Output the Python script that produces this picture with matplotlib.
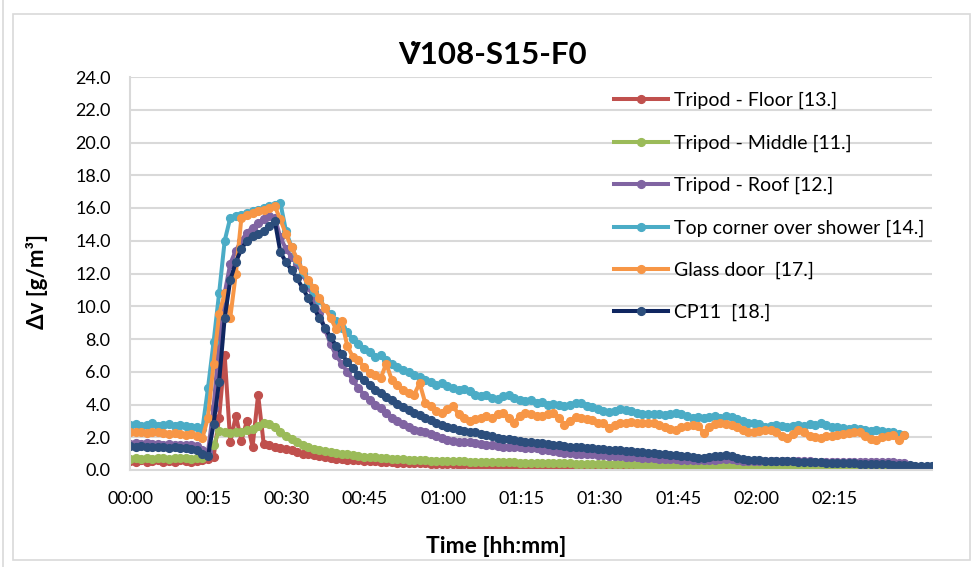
import numpy as np
import matplotlib
matplotlib.use("Agg")
import matplotlib.pyplot as plt
from matplotlib.ticker import FuncFormatter, MultipleLocator, FixedLocator
from matplotlib.patches import Rectangle

plt.rcParams['font.family'] = ['Lato', 'DejaVu Sans']

# logger samples every 64 s -> time of each sample in minutes
t_min = np.arange(0, 145) * 64 / 60
tick_minutes = [0, 15, 30, 45, 60, 75, 90, 105, 120, 135]

floor_13 = [0.55, 0.5, 0.6, 0.5, 0.55, 0.6, 0.5, 0.55, 0.5, 0.6, 0.55, 0.5, 0.55,
            0.6, 0.65, 0.8, 3.2, 7.0, 1.7, 3.3, 1.8, 3.0, 1.4, 4.6, 1.6, 1.5, 1.4,
            1.35, 1.3, 1.2, 1.1, 1.0, 0.95, 0.9, 0.85, 0.8, 0.75, 0.7, 0.65, 0.62,
            0.6, 0.6, 0.55, 0.55, 0.52, 0.5, 0.5, 0.48, 0.45, 0.45, 0.42, 0.4, 0.42,
            0.4, 0.38, 0.38, 0.36, 0.35, 0.35, 0.33, 0.34, 0.32, 0.3, 0.3,
            0.3, 0.28, 0.3, 0.28, 0.27, 0.28, 0.26, 0.27, 0.25, 0.26,
            0.25, 0.24, 0.25, 0.23, 0.24, 0.22, 0.23, 0.22, 0.21, 0.22,
            0.2, 0.21, 0.2, 0.2, 0.19, 0.2, 0.18, 0.19, 0.18, 0.17,
            0.18, 0.17, 0.16, 0.17, 0.16, 0.15, 0.16, 0.15, 0.14, 0.15,
            0.14, 0.13, 0.12, 0.12, 0.12, 0.13, 0.14, 0.13, 0.12, 0.12,
            0.11, 0.12, 0.11, 0.1, 0.11, 0.1, 0.1, 0.09, 0.1, 0.09,
            0.09, 0.08, 0.09, 0.08, 0.08, 0.07, 0.08, 0.07, 0.07, 0.06,
            0.07, 0.06, 0.06, 0.05, 0.06, 0.05]

middle_11 = [0.7, 0.75, 0.7, 0.72, 0.7, 0.75, 0.72, 0.7, 0.73, 0.75, 0.72, 0.7, 0.72, 0.75,
             0.9, 1.5, 2.4, 2.35, 2.25, 2.3, 2.35, 2.45, 2.5, 2.7, 2.9, 2.8, 2.6,
             2.35, 2.1, 1.9, 1.7, 1.5, 1.4, 1.3, 1.2, 1.15, 1.1, 1.05, 1.0, 0.95,
             0.9, 0.85, 0.82, 0.8, 0.78, 0.75, 0.72, 0.7, 0.68, 0.65, 0.63, 0.62,
             0.6, 0.6, 0.58, 0.57, 0.56, 0.55, 0.54, 0.53, 0.52, 0.51, 0.5, 0.5,
             0.49, 0.48, 0.48, 0.47, 0.46, 0.46, 0.45, 0.45, 0.44, 0.43,
             0.43, 0.42, 0.42, 0.41, 0.4, 0.4, 0.39, 0.39, 0.38, 0.37,
             0.37, 0.36, 0.36, 0.35, 0.35, 0.34, 0.34, 0.33, 0.33, 0.32,
             0.32, 0.31, 0.31, 0.3, 0.3, 0.29, 0.29, 0.28, 0.28, 0.27,
             0.27, 0.28, 0.3, 0.29, 0.27, 0.25, 0.24, 0.24, 0.23, 0.23,
             0.22, 0.22, 0.21, 0.21, 0.2, 0.2, 0.2, 0.19, 0.19, 0.18,
             0.18, 0.18, 0.17, 0.17, 0.16, 0.16, 0.16, 0.15, 0.15, 0.15,
             0.14, 0.14, 0.14, 0.13, 0.13, 0.13]

roof_12 = [1.6, 1.65, 1.6, 1.62, 1.58, 1.6, 1.55, 1.58, 1.55, 1.52, 1.55, 1.5, 1.45,
           1.25, 1.1, 3.8, 7.8, 10.8, 12.6, 13.4, 14.0, 14.5, 14.8, 15.1, 15.3, 15.5, 15.4,
           14.2, 13.5, 13.0, 12.6, 12.0, 11.2, 10.5, 9.6, 8.6, 7.7, 7.0, 6.5, 6.0,
           5.5, 5.0, 4.6, 4.3, 4.0, 3.8, 3.5, 3.2, 3.0, 2.8, 2.6, 2.45, 2.4, 2.3,
           2.2, 2.05, 1.95, 1.85, 1.78, 1.72, 1.7, 1.68, 1.62, 1.58, 1.55, 1.5,
           1.45, 1.42, 1.4, 1.38, 1.4, 1.36, 1.35, 1.32, 1.25, 1.2, 1.15, 1.1,
           1.05, 1.03, 1.0, 0.98, 0.97, 0.95, 0.92, 0.9, 0.88, 0.85, 0.83, 0.8,
           0.78, 0.77, 0.75, 0.73, 0.72, 0.7, 0.68, 0.66, 0.65, 0.64, 0.63,
           0.62, 0.62, 0.61, 0.6, 0.62, 0.66, 0.7, 0.66, 0.6, 0.58,
           0.57, 0.57, 0.56, 0.56, 0.55, 0.55, 0.54, 0.54, 0.53, 0.53,
           0.52, 0.52, 0.51, 0.51, 0.5, 0.5, 0.5, 0.49, 0.49, 0.48,
           0.48, 0.48, 0.47, 0.47, 0.47, 0.46, 0.46, 0.45, 0.45]

corner_14 = [2.75, 2.8, 2.7, 2.75, 2.85, 2.7, 2.75, 2.8, 2.7, 2.75, 2.7, 2.65, 2.6,
             2.5, 5.0, 7.8, 10.8, 14.0, 15.4, 15.5, 15.6, 15.7, 15.8, 15.9, 16.0, 16.1,
             16.2, 16.3, 14.6, 13.6, 12.8, 12.1, 11.4, 10.9, 10.4, 9.9, 9.5, 9.1,
             8.7, 8.4, 8.0, 7.7, 7.4, 7.2, 6.9, 7.0, 6.7, 6.5, 6.3, 6.1, 6.0, 5.8,
             5.7, 5.5, 5.4, 5.2, 5.3, 5.1, 5.0, 4.9, 4.95, 4.8, 4.6, 4.5, 4.6, 4.4,
             4.35, 4.5, 4.55, 4.4, 4.3, 4.2, 4.25, 4.1, 4.15, 4.0, 4.05, 3.95, 3.9,
             4.0, 4.1, 4.1, 3.9, 3.85, 3.7, 3.6, 3.55, 3.6, 3.7, 3.65, 3.6, 3.5,
             3.45, 3.4, 3.45, 3.4, 3.35, 3.4, 3.5, 3.45, 3.3, 3.2, 3.25, 3.2, 3.25,
             3.3, 3.2, 3.3, 3.25, 3.1, 3.0, 2.9, 2.85, 2.8, 2.65, 2.7, 2.75, 2.7,
             2.65, 2.7, 2.75, 2.7, 2.8, 2.75, 2.85, 2.75, 2.65, 2.6, 2.55, 2.5,
             2.55, 2.5, 2.45, 2.4, 2.45, 2.4, 2.35, 2.3, 2.2, 2.15]

glass_17 = [2.3, 2.35, 2.3, 2.25, 2.3, 2.3, 2.25, 2.2, 2.25, 2.2, 2.15, 2.2, 2.1,
            1.95, 3.2, 6.5, 9.5, 10.8, 9.3, 12.0, 15.4, 15.6, 15.7, 15.8, 15.9, 16.0,
            16.1, 15.3, 14.4, 13.6, 12.9, 12.2, 11.6, 11.1, 10.5, 9.9, 9.3, 8.6,
            9.1, 7.6, 6.9, 6.7, 6.3, 5.9, 5.8, 5.6, 6.5, 5.5, 5.2, 4.9, 4.7, 4.6,
            5.3, 4.1, 3.9, 3.6, 3.5, 3.7, 3.9, 3.4,
            3.2, 3.0, 3.1, 3.2, 3.3, 3.2, 3.4, 3.5, 3.2, 2.9, 3.3, 3.5, 3.4, 3.3,
            3.3, 3.45, 3.5, 3.2, 2.75, 3.0, 3.25, 3.2, 3.1, 3.05, 2.9, 2.85, 2.55,
            2.75, 2.9, 2.85, 2.95, 2.9, 2.85, 2.9, 2.85, 2.75, 2.6, 2.5, 2.45, 2.6,
            2.7, 2.75, 2.7, 2.25, 2.6,
            2.8, 2.85, 2.8, 2.75, 2.6, 2.45, 2.3, 2.35, 2.4, 2.45, 2.45, 2.3, 2.1,
            1.95, 2.2, 2.45, 2.3, 2.1, 2.0, 1.95, 2.05, 2.1, 2.15, 2.2, 2.25, 2.3,
            2.3, 2.1, 1.9, 1.85, 2.0, 2.1, 2.15, 1.85, 2.15]

cp11_18 = [1.45, 1.4, 1.45, 1.4, 1.42, 1.38, 1.4, 1.35, 1.38, 1.35, 1.32, 1.3, 1.2,
           0.95, 0.85, 2.8, 5.4, 9.3, 11.6, 12.7, 13.5, 14.0, 14.3, 14.4, 14.6, 14.9,
           15.2, 13.3, 12.7, 12.2, 11.7, 11.1, 10.5, 9.9, 9.3, 8.7, 8.1, 7.6, 7.1,
           6.6, 6.2, 5.8, 5.5, 5.2, 4.9, 4.7, 4.45, 4.25, 4.05, 3.85, 3.65, 3.5,
           3.35, 3.2, 3.05, 2.9, 2.75, 2.65, 2.55, 2.45, 2.4, 2.35, 2.3, 2.22,
           2.15, 2.05, 1.98, 1.92, 1.88, 1.82, 1.78, 1.74, 1.7, 1.66, 1.62, 1.58,
           1.55, 1.5, 1.45, 1.42, 1.4, 1.38, 1.36, 1.33, 1.3, 1.28, 1.25, 1.22,
           1.2, 1.17, 1.14, 1.11, 1.08, 1.05, 1.02, 1.0, 0.97, 0.94, 0.9, 0.86,
           0.83, 0.8, 0.76, 0.75, 0.78, 0.83, 0.88, 0.92, 0.88, 0.76, 0.66, 0.62,
           0.6, 0.59, 0.58, 0.57, 0.56, 0.55, 0.54, 0.52, 0.51, 0.5, 0.49, 0.48,
           0.46, 0.45, 0.44, 0.43, 0.42, 0.41, 0.4, 0.39, 0.38, 0.37, 0.36, 0.35,
           0.34, 0.33, 0.32, 0.3, 0.28, 0.26, 0.25, 0.23, 0.22]

series = [
    ("Tripod - Floor [13.]", floor_13, "#C0504D", "#C0504D"),
    ("Tripod - Middle [11.]", middle_11, "#9BBB59", "#9BBB59"),
    ("Tripod - Roof [12.]", roof_12, "#8064A2", "#8064A2"),
    ("Top corner over shower [14.]", corner_14, "#4BACC6", "#4BACC6"),
    ("Glass door  [17.]", glass_17, "#F79646", "#F79646"),
    ("CP11  [18.]", cp11_18, "#0F2660", "#2C4E7C"),
]


def fmt_hhmm(x, pos):
    m = int(round(x))
    return f"{m // 60:02d}:{m % 60:02d}"


fig = plt.figure(figsize=(9.8, 5.67), dpi=100)
ax = fig.add_axes([130 / 980, 1 - 470 / 567, 802 / 980, 393 / 567])

# chart frame like the Excel chart area
fig.patches.append(Rectangle((13 / 980, 7 / 567), 957 / 980, 546 / 567,
                             transform=fig.transFigure, fill=False,
                             edgecolor="#d9d9d9", linewidth=1.2))
fig.add_artist(plt.Line2D([3 / 980, 3 / 980], [0, 1], transform=fig.transFigure,
                          color="#d9d9d9", linewidth=1.2))

for label, vals, lc, mc in series:
    ax.plot(t_min[:len(vals)], vals, color=lc, linewidth=2.9, marker="o",
            markersize=5.6, markerfacecolor=mc, markeredgecolor=mc, label=label)

ax.set_xlim(0, 802 / 5.222)
ax.set_ylim(0, 24)
ax.yaxis.set_major_locator(MultipleLocator(2))
ax.yaxis.set_major_formatter(FuncFormatter(lambda v, p: f"{v:.1f}"))
ax.xaxis.set_major_locator(FixedLocator(tick_minutes))
ax.xaxis.set_major_formatter(FuncFormatter(fmt_hhmm))

ax.grid(axis="y", color="#d9d9d9", linewidth=1.5)
ax.set_axisbelow(True)
for side in ["top", "right"]:
    ax.spines[side].set_visible(False)
ax.spines["left"].set_color("#d9d9d9")
ax.spines["bottom"].set_color("#d9d9d9")
ax.spines["left"].set_linewidth(1.5)
ax.spines["bottom"].set_linewidth(1.5)
ax.tick_params(axis="both", length=0, labelsize=13, colors="black")
ax.tick_params(axis="y", pad=14)
ax.tick_params(axis="x", pad=15)

fig.text(492 / 980, 1 - 55 / 567, "V\u0307108-S15-F0", fontsize=22.5,
         fontweight="bold", ha="center", va="center")
ax.set_ylabel("Δv [g/m³]", fontsize=16, fontweight="bold")
ax.yaxis.set_label_coords(-0.102, 0.48)
ax.set_xlabel("Time [hh:mm]", fontsize=16.5, fontweight="bold")
ax.xaxis.set_label_coords(0.456, -0.168)

ax.legend(loc="upper left", bbox_to_anchor=(614 / 980, 1 - 92 / 567),
          bbox_transform=fig.transFigure, frameon=False, fontsize=14,
          handlelength=2.8, handletextpad=0.28, labelspacing=1.29,
          borderpad=0, borderaxespad=0)

fig.savefig("out.png", dpi=100)
